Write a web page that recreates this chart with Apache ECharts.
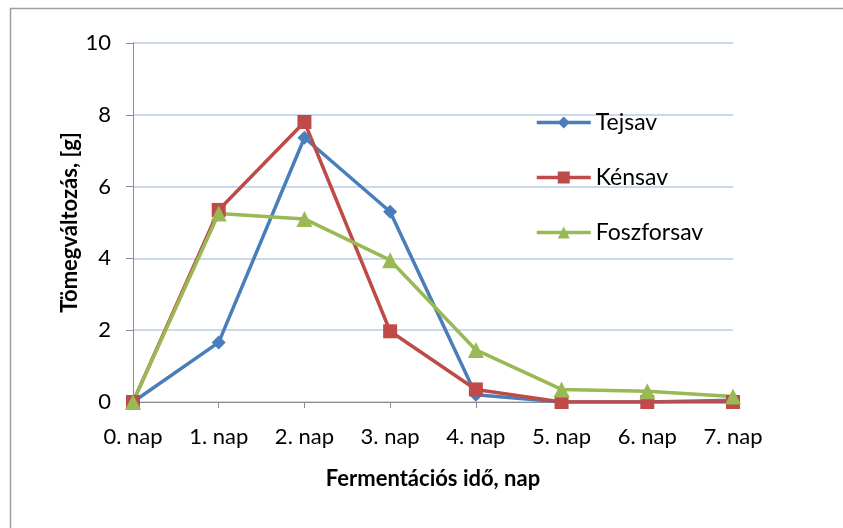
<!DOCTYPE html>
<html>
<head>
<meta charset="utf-8">
<script src="https://cdn.jsdelivr.net/npm/echarts@6/dist/echarts.min.js"></script>
<style>
  html, body { margin: 0; padding: 0; background: #fff; }
  #chart { width: 843px; height: 528px; }
</style>
</head>
<body>
<div id="chart"></div>
<script>
// fermentációs napok
var days = ['0. nap', '1. nap', '2. nap', '3. nap', '4. nap', '5. nap', '6. nap', '7. nap'];
// tömegváltozás, g
var tejsav = [0, 1.66, 7.36, 5.3, 0.2, 0, 0, 0.05];
var kensav = [0, 5.35, 7.8, 1.97, 0.35, 0, 0, 0];
var foszforsav = [0, 5.25, 5.1, 3.95, 1.45, 0.35, 0.3, 0.15];
var yTicks = [0, 2, 4, 6, 8, 10];

var font = 'Lato, "Open Sans", sans-serif';
var colors = ['#4A7EBB', '#BE4B48', '#98B954'];

var chart = echarts.init(document.getElementById('chart'));

var lineSeries = function (name, data, symbol, size, color) {
	return {
		name: name,
		type: 'line',
		data: data,
		symbol: symbol,
		symbolSize: size,
		showSymbol: true,
		lineStyle: { width: 3.5, color: color },
		itemStyle: { color: color },
		emphasis: { disabled: true },
		animation: false
	};
};

var option = {
	backgroundColor: '#fff',
	graphic: [{
		type: 'rect',
		shape: { x: 10.5, y: 8.5, width: 900, height: 600 },
		style: { fill: 'none', stroke: '#a0a0a0', lineWidth: 1.5 },
		silent: true
	}],
	grid: { left: 133, right: 110, top: 43, bottom: 126 },
	legend: {
		orient: 'vertical',
		left: 530,
		top: 106,
		itemWidth: 54,
		itemHeight: 15,
		itemGap: 32,
		lineStyle: { width: 3.5 },
		textStyle: { fontFamily: font, fontSize: 23, color: '#000' },
		data: ['Tejsav', 'Kénsav', 'Foszforsav']
	},
	xAxis: {
		type: 'category',
		data: days,
		boundaryGap: false,
		name: 'Fermentációs idő, nap',
		nameLocation: 'middle',
		nameGap: 66,
		nameMoveOverlap: false,
		nameTextStyle: { fontFamily: font, fontSize: 22, fontWeight: 'bold', color: '#000' },
		axisLine: { lineStyle: { color: '#8c8c8c', width: 1 } },
		axisTick: { show: true, length: 6, lineStyle: { color: '#8c8c8c' } },
		axisLabel: { fontFamily: font, fontSize: 22, color: '#000', margin: 24 },
		splitLine: { show: false }
	},
	yAxis: {
		type: 'value',
		min: yTicks[0],
		max: yTicks[yTicks.length - 1],
		interval: 2,
		name: 'Tömegváltozás, [g]',
		nameLocation: 'middle',
		nameGap: 52,
		nameMoveOverlap: false,
		nameRotate: 90,
		nameTextStyle: { fontFamily: font, fontSize: 22, fontWeight: 'bold', color: '#000' },
		axisLine: { show: true, lineStyle: { color: '#8c8c8c', width: 1 } },
		axisTick: { show: true, length: 7, lineStyle: { color: '#8c8c8c' } },
		axisLabel: { fontFamily: font, fontSize: 22, color: '#000', margin: 22 },
		splitLine: { show: true, lineStyle: { color: '#b8cce4', width: 1.5 } }
	},
	series: [
		lineSeries('Tejsav', tejsav, 'diamond', 14, colors[0]),
		lineSeries('Kénsav', kensav, 'rect', 14, colors[1]),
		lineSeries('Foszforsav', foszforsav, 'triangle', 16, colors[2])
	]
};
chart.setOption(option);
</script>
</body>
</html>
